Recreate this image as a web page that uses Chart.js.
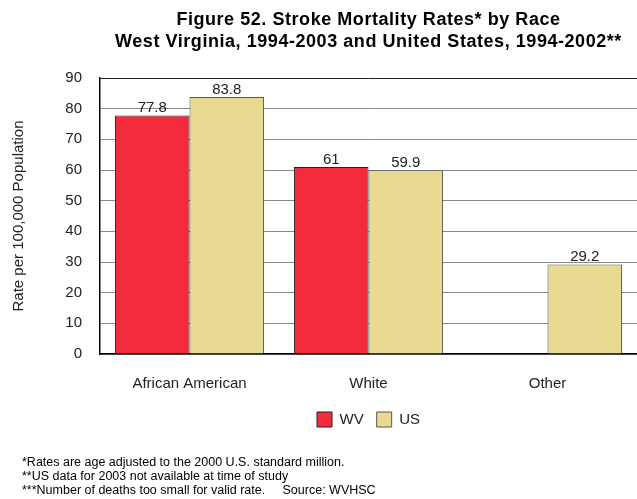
<!DOCTYPE html>
<html>
<head>
<meta charset="utf-8">
<script src="https://cdn.jsdelivr.net/npm/chart.js@4"></script>
<style>
  body{margin:0;background:#fff;font-family:"Liberation Sans",Arial,sans-serif;}
  #wrap{position:relative;width:637px;height:499px;overflow:hidden;}
  #chart{position:absolute;left:0;top:0;}
  #title{position:absolute;left:100px;width:537px;top:8px;text-align:center;font-weight:bold;font-size:18px;letter-spacing:0.55px;line-height:22px;color:#000;}
  #notes{position:absolute;left:22px;top:455px;font-size:12.5px;line-height:14px;color:#000;white-space:pre;}
</style>
</head>
<body>
<div id="wrap">
  <canvas id="chart" width="637" height="499"></canvas>
  <div id="title">Figure 52. Stroke Mortality Rates* by Race<br>West Virginia, 1994-2003 and United States, 1994-2002**</div>
  <div id="notes">*Rates are age adjusted to the 2000 U.S. standard million.
**US data for 2003 not available at time of study
***Number of deaths too small for valid rate.     Source: WVHSC</div>
</div>
<script>
// DATA
const races = ["African American","White","Other"];
const wv = [77.8, 61, null];
const us = [83.8, 59.9, 29.2];
const yTicks = [0,10,20,30,40,50,60,70,80,90];

const font = "'Liberation Sans', Arial, sans-serif";

// value labels over bars
const barLabels = {
  id:"barLabels",
  afterDatasetsDraw(chart){
    const ctx = chart.ctx;
    ctx.save();
    ctx.font = "15px " + font;
    ctx.fillStyle = "#222";
    ctx.textAlign = "center";
    ctx.textBaseline = "alphabetic";
    chart.data.datasets.forEach((ds,i)=>{
      chart.getDatasetMeta(i).data.forEach((bar,j)=>{
        if(ds.data[j]==null) return;
        ctx.fillText(String(ds.data[j]), bar.x, bar.y-3);
      });
    });
    ctx.restore();
  }
};

new Chart(document.getElementById("chart"),{
  type:"bar",
  data:{
    labels:races,
    datasets:[
      {label:"WV",data:wv,backgroundColor:"#F22C3C",borderColor:"#222",borderWidth:1},
      {label:"US",data:us,backgroundColor:"#E8DA91",borderColor:"#555",borderWidth:1}
    ]
  },
  options:{
    responsive:false,
    animation:false,
    layout:{padding:{top:78,left:0,right:-3,bottom:62}},
    datasets:{bar:{categoryPercentage:0.833,barPercentage:1}},
    scales:{
      x:{
        grid:{display:false,drawTicks:false},
        border:{color:"#000",width:1.5},
        ticks:{color:"#222",font:{family:font,size:15},padding:21,maxRotation:0},
        afterFit:s=>{s.height=45;}
      },
      y:{
        min:0,max:90,
        afterBuildTicks:s=>{s.ticks=yTicks.map(v=>({value:v}));},
        grid:{color:c=>c.tick.value===90?"#222":"#888",lineWidth:1,drawTicks:false},
        border:{color:"#000",width:1.5},
        ticks:{color:"#222",font:{family:font,size:15},padding:18},
        title:{display:true,text:"Rate per 100,000 Population",color:"#222",font:{family:font,size:15},padding:{top:10,bottom:0}},
        afterFit:s=>{s.width=100;}
      }
    },
    plugins:{
      legend:{
        position:"bottom",
        fullSize:false,
        labels:{boxWidth:15,boxHeight:15,padding:13,color:"#222",font:{family:font,size:15}}
      },
      tooltip:{enabled:false}
    }
  },
  plugins:[barLabels]
});
</script>
</body>
</html>
